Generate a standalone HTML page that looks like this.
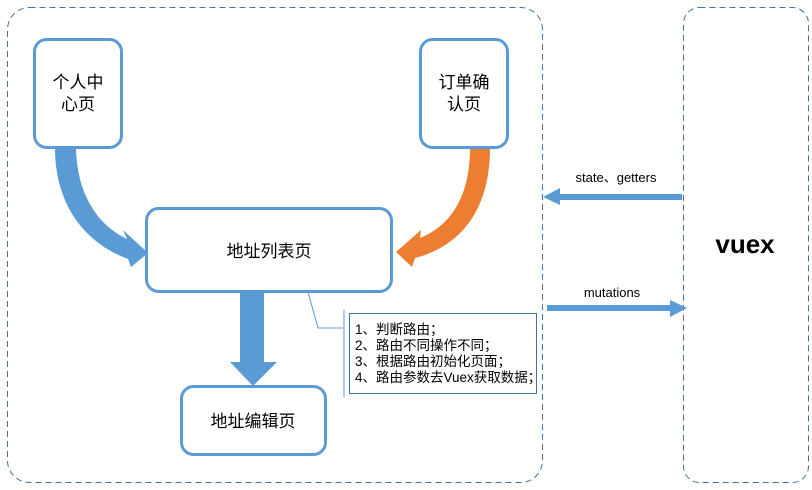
<!DOCTYPE html>
<html><head><meta charset="utf-8"><style>
body{margin:0;background:#fff;}
svg{display:block;font-family:"Liberation Sans","Noto Sans CJK SC",sans-serif;}
</style></head><body>
<svg width="812" height="490" viewBox="0 0 812 490">
<rect x="7.5" y="7.5" width="535" height="475" rx="22" fill="none" stroke="#41719c" stroke-width="1" stroke-dasharray="6,4"/>
<rect x="683.5" y="7.5" width="125" height="475" rx="16" fill="none" stroke="#41719c" stroke-width="1" stroke-dasharray="6,4"/>
<!-- left curved arrow -->
<path d="M55,148 C55,205 85,243 128,259 L131,267 L148,253 L123,230 L127,239 C98,225 77,195 76,148 Z" fill="#5b9bd5"/>
<!-- orange curved arrow -->
<path d="M490,148 C490,205 465,245 415,258 L412,267 L396,252 L421,230 L420,238 C452,225 470,195 470,148 Z" fill="#ed7d31"/>
<!-- down arrow -->
<path d="M240,292 L264,292 L264,362 L277,362 L253,386 L230,362 L240,362 Z" fill="#5b9bd5"/>
<!-- boxes -->
<rect x="34.5" y="39.5" width="87" height="108" rx="12" fill="#fff" stroke="#5b9bd5" stroke-width="3"/>
<rect x="420.5" y="39.5" width="87" height="108" rx="12" fill="#fff" stroke="#5b9bd5" stroke-width="3"/>
<rect x="146.5" y="208.5" width="245" height="83" rx="12" fill="#fff" stroke="#5b9bd5" stroke-width="3"/>
<rect x="181.5" y="386.5" width="144" height="68" rx="12" fill="#fff" stroke="#5b9bd5" stroke-width="3"/>
<g font-size="17" fill="#000" text-anchor="middle">
<text x="78" y="88">个人中</text><text x="78" y="110">心页</text>
<text x="464" y="88">订单确</text><text x="464" y="110">认页</text>
<text x="269" y="257">地址列表页</text>
<text x="253" y="427">地址编辑页</text>
</g>
<!-- callout -->
<path d="M308,292 L318,328 L344,328" fill="none" stroke="#5b9bd5" stroke-width="1"/>
<line x1="344" y1="310" x2="344" y2="397" stroke="#b4c7e7" stroke-width="2"/>
<rect x="349.5" y="313.5" width="187" height="80" fill="#fff" stroke="#41719c" stroke-width="1"/>
<g font-size="13.5" fill="#000">
<text x="355" y="334">1、判断路由；</text>
<text x="355" y="350">2、路由不同操作不同；</text>
<text x="355" y="366">3、根据路由初始化页面；</text>
<text x="355" y="382">4、路由参数去Vuex获取数据；</text>
</g>
<!-- horizontal arrows -->
<path d="M682,194 L560,194 L560,188 L543,197 L560,205 L560,200 L682,200 Z" fill="#5b9bd5"/>
<path d="M547,305 L670,305 L670,300 L687,308 L670,317 L670,311 L547,311 Z" fill="#5b9bd5"/>
<text x="616" y="182" font-size="13" text-anchor="middle">state、getters</text>
<text x="612" y="297" font-size="13" text-anchor="middle">mutations</text>
<text x="745" y="253" font-size="26" font-weight="bold" text-anchor="middle">vuex</text>
</svg>
</body></html>
